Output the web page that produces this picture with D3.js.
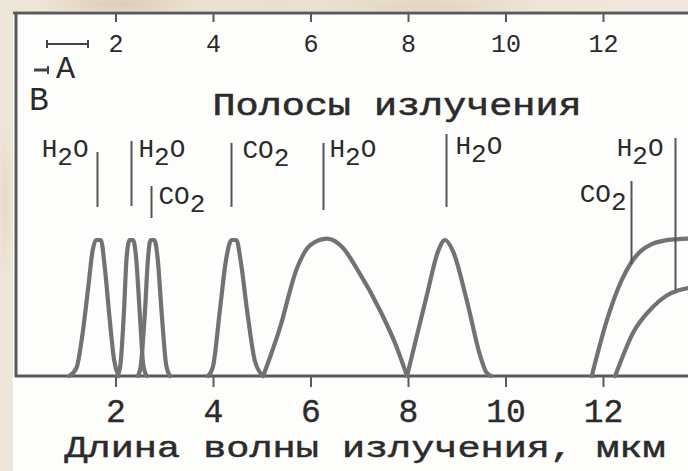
<!DOCTYPE html>
<html>
<head>
<meta charset="utf-8">
<script src="https://cdn.jsdelivr.net/npm/d3@7/dist/d3.min.js"></script>
<style>
  html, body { margin: 0; padding: 0; }
  body {
    width: 688px; height: 471px; overflow: hidden;
    background:
      radial-gradient(ellipse 120px 20px at 120px 4px, rgba(200,175,145,0.45), rgba(200,175,145,0) 70%),
      radial-gradient(ellipse 160px 18px at 430px 6px, rgba(205,182,150,0.35), rgba(205,182,150,0) 70%),
      radial-gradient(ellipse 12px 120px at 5px 200px, rgba(215,195,170,0.4), rgba(215,195,170,0) 70%),
      linear-gradient(90deg, #efe6da, #eadfcf 40%, #f1e9de);
  }
  svg { display: block; }
  text { font-family: "Liberation Mono", "DejaVu Sans Mono", monospace; fill: #2b2b2b; }
</style>
</head>
<body>
<svg id="chart" width="688" height="471"></svg>
<script>
// ---------- data ----------
const wavelengthTicks = [2, 4, 6, 8, 10, 12];
const tickLabels = ["2", "4", "6", "8", "10", "12"];

// emission bands: [wavelength (µm), relative intensity]
const bandH2O_16 = [[1.05,0],[1.2,0.06],[1.32,0.3],[1.44,0.65],[1.53,0.92],[1.6,1.0],[1.7,1.0],[1.78,0.8],[1.88,0.42],[1.97,0.12],[2.06,0]];
const bandH2O_23 = [[2.04,0],[2.1,0.08],[2.17,0.45],[2.23,0.88],[2.29,1.0],[2.36,1.0],[2.42,0.88],[2.5,0.45],[2.57,0.08],[2.64,0]];
const bandCO2_27 = [[2.46,0],[2.52,0.08],[2.6,0.45],[2.67,0.88],[2.72,1.0],[2.8,1.0],[2.86,0.88],[2.95,0.45],[3.04,0.08],[3.12,0]];
const bandCO2_44 = [[3.9,0],[4.0,0.07],[4.14,0.48],[4.27,0.86],[4.38,1.0],[4.48,1.0],[4.57,0.84],[4.7,0.48],[4.86,0.11],[5.03,0]];
const bandH2O_63 = [[5.03,0],[5.37,0.35],[5.72,0.79],[5.99,0.96],[6.34,1.01],[6.67,0.94],[6.95,0.79],[7.43,0.48],[7.77,0.21],[7.98,0]];
const bandH2O_88 = [[7.98,0],[8.39,0.6],[8.62,0.92],[8.76,1.0],[8.92,0.92],[9.21,0.55],[9.48,0.15],[9.6,0.03],[9.7,0]];
const bandCO2_15 = [[11.77,0],[12.08,0.41],[12.39,0.71],[12.59,0.84],[12.78,0.92],[13.0,0.97],[13.25,0.995],[13.5,1.005],[13.8,1.01]];
const bandH2O_20 = [[12.25,0],[12.62,0.32],[13.03,0.51],[13.3,0.59],[13.55,0.63],[13.8,0.65]];
const bands = [bandH2O_16, bandH2O_23, bandCO2_27, bandCO2_44, bandH2O_63, bandH2O_88, bandCO2_15, bandH2O_20];

// band markers
const markerWavelengths = [1.62, 2.32, 2.73, 4.37, 6.26, 8.78, 12.57, 13.48];
const markerGases = ["H2O", "H2O", "CO2", "CO2", "H2O", "H2O", "CO2", "H2O"];

const titleText = "Полосы излучения";
const axisTitle = "Длина волны излучения, мкм";
const legendLabels = ["A", "B"];

// ---------- drawing ----------
const svg = d3.select("#chart");
const W = 688, H = 471;

// paper
svg.append("rect").attr("x", 13).attr("y", 11).attr("width", W - 13).attr("height", H - 11).attr("fill", "#fdfdfc");

const x = d3.scaleLinear().domain([0, 14]).range([18, 18 + 14 * 48.75]);
const y = d3.scaleLinear().domain([0, 1]).range([376, 240]);

const axisColor = "#5a5a5a";

// bottom axis
const gB = svg.append("g").attr("transform", "translate(0,376)")
  .call(d3.axisBottom(x).tickValues(wavelengthTicks).tickFormat((d, i) => tickLabels[i]).tickSize(11).tickSizeOuter(0));
gB.select(".domain").remove();
gB.selectAll(".tick line").attr("stroke", axisColor).attr("stroke-width", 2);
gB.selectAll(".tick text").attr("y", 46).attr("dy", 0).attr("font-size", 33)
  .attr("font-family", "Liberation Mono").attr("fill", "#2b2b2b")
  .attr("stroke", "#2b2b2b").attr("stroke-width", 0.4);

// top axis
const gT = svg.append("g").attr("transform", "translate(0,13)")
  .call(d3.axisBottom(x).tickValues(wavelengthTicks).tickFormat((d, i) => tickLabels[i]).tickSize(9).tickSizeOuter(0));
gT.select(".domain").remove();
gT.selectAll(".tick line").attr("stroke", axisColor).attr("stroke-width", 2);
gT.selectAll(".tick text").attr("y", 39).attr("dy", 0).attr("font-size", 25)
  .attr("font-family", "Liberation Mono").attr("fill", "#333");

// frame lines
svg.append("line").attr("x1", 13).attr("x2", W).attr("y1", 13).attr("y2", 13).attr("stroke", axisColor).attr("stroke-width", 3);
svg.append("line").attr("x1", 16).attr("x2", 16).attr("y1", 12).attr("y2", 377).attr("stroke", axisColor).attr("stroke-width", 3);
svg.append("line").attr("x1", 15).attr("x2", W).attr("y1", 376).attr("y2", 376).attr("stroke", axisColor).attr("stroke-width", 3);

// bands
const line = d3.line().x(d => x(d[0])).y(d => y(d[1])).curve(d3.curveMonotoneX);
svg.append("g").selectAll("path").data(bands).join("path")
  .attr("d", line).attr("fill", "none").attr("stroke", "#727272").attr("stroke-width", 4.2)
  .attr("stroke-linejoin", "round").attr("stroke-linecap", "round");

// markers (layout)
const markerLayout = [
  { top: 152, bottom: 207, side: "left",  dx: -9,  base: 157 },
  { top: 141, bottom: 206, side: "right", dx: 7,   base: 157 },
  { top: 186, bottom: 218, side: "right", dx: 7,   base: 204 },
  { top: 143, bottom: 207, side: "right", dx: 11,  base: 158 },
  { top: 143, bottom: 210, side: "right", dx: 6,   base: 157 },
  { top: 134, bottom: 207, side: "right", dx: 9,   base: 154 },
  { top: 181, bottom: 264, side: "left",  dx: -5,  base: 202 },
  { top: 138, bottom: 290, side: "left",  dx: -12, base: 156 }
];
const mg = svg.append("g");
markerWavelengths.forEach((w, i) => {
  const L = markerLayout[i];
  const px = Math.round(x(w)) + 0.5;
  mg.append("line").attr("x1", px).attr("x2", px).attr("y1", L.top).attr("y2", L.bottom)
    .attr("stroke", "#555").attr("stroke-width", 2);
  const t = mg.append("text").attr("x", px + L.dx).attr("y", L.base)
    .attr("text-anchor", L.side === "left" ? "end" : "start").attr("font-size", 26).attr("fill", "#333");
  const gas = markerGases[i];
  const parts = gas === "H2O" ? ["H", "2", "O"] : ["CO", "2", ""];
  t.append("tspan").text(parts[0]);
  t.append("tspan").attr("dy", 8).text(parts[1]);
  if (parts[2]) t.append("tspan").attr("dy", -8).text(parts[2]);
});

// title
svg.append("text").attr("x", 397).attr("y", 115).attr("text-anchor", "middle")
  .attr("font-size", 32).attr("textLength", 369).attr("lengthAdjust", "spacingAndGlyphs")
  .attr("stroke", "#2b2b2b").attr("stroke-width", 0.6)
  .text(titleText);

// axis title
svg.append("text").attr("x", 365).attr("y", 457).attr("text-anchor", "middle")
  .attr("font-size", 30).attr("textLength", 601).attr("lengthAdjust", "spacingAndGlyphs")
  .attr("stroke", "#2b2b2b").attr("stroke-width", 0.5)
  .text(axisTitle);

// legend scale bars
const lg = svg.append("g").attr("stroke", "#444").attr("stroke-width", 2);
lg.append("line").attr("x1", 47).attr("x2", 88).attr("y1", 44).attr("y2", 44);
lg.append("line").attr("x1", 47).attr("x2", 47).attr("y1", 40).attr("y2", 48);
lg.append("line").attr("x1", 88).attr("x2", 88).attr("y1", 40).attr("y2", 48);
lg.append("line").attr("x1", 34).attr("x2", 48).attr("y1", 70).attr("y2", 70).attr("stroke-width", 3);
lg.append("line").attr("x1", 48).attr("x2", 48).attr("y1", 66).attr("y2", 74);
svg.append("text").attr("x", 56).attr("y", 78).attr("font-size", 32).text(legendLabels[0]);
svg.append("text").attr("x", 29).attr("y", 110).attr("font-size", 33).text(legendLabels[1]);
</script>
</body>
</html>
